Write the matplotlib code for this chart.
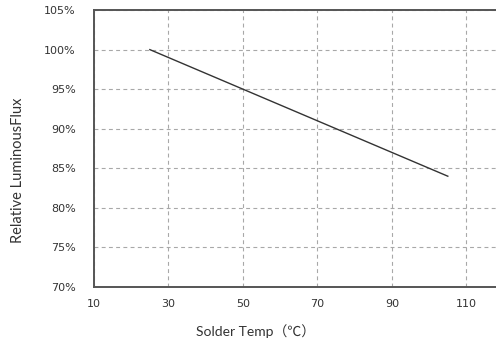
import matplotlib
matplotlib.use("Agg")
import matplotlib.pyplot as plt
from matplotlib.ticker import FuncFormatter

# data
temp = [25, 50, 70, 90, 105]
flux = [100, 95, 91, 87, 84]

x_ticks = [10, 30, 50, 70, 90, 110]
y_ticks = [70, 75, 80, 85, 90, 95, 100, 105]

fig = plt.figure(figsize=(4.96, 3.47), dpi=100)
ax = fig.add_axes([0.1895, 0.173, 0.826, 0.798])

ax.plot(temp, flux, color="#333333", linewidth=1.0)

ax.set_xlim(10, 120)
ax.set_ylim(70, 105)
ax.set_xticks(x_ticks)
ax.set_yticks(y_ticks)
ax.yaxis.set_major_formatter(FuncFormatter(lambda v, p: f"{v:.0f}%"))

ax.grid(True, color="#a8a8a8", linestyle=(0, (3.5, 3)), linewidth=0.8)
ax.set_axisbelow(True)

ax.spines["right"].set_visible(False)
for side in ["left", "bottom", "top"]:
    ax.spines[side].set_color("#555555")
    ax.spines[side].set_linewidth(1.4)

ax.tick_params(length=0, labelsize=8, labelcolor="#333333")
ax.tick_params(axis="y", pad=13)
ax.tick_params(axis="x", pad=9)

fig.text(0.515, 0.045, "Solder Temp（℃）", ha="center", va="center",
         fontsize=10, color="#333333", family=["Lato", "Noto Sans CJK SC"])
fig.text(0.036, 0.51, "Relative LuminousFlux", ha="center", va="center",
         rotation=90, fontsize=10.5, color="#333333", family=["Lato", "Noto Sans CJK SC"])

fig.savefig("out.png", dpi=100)
